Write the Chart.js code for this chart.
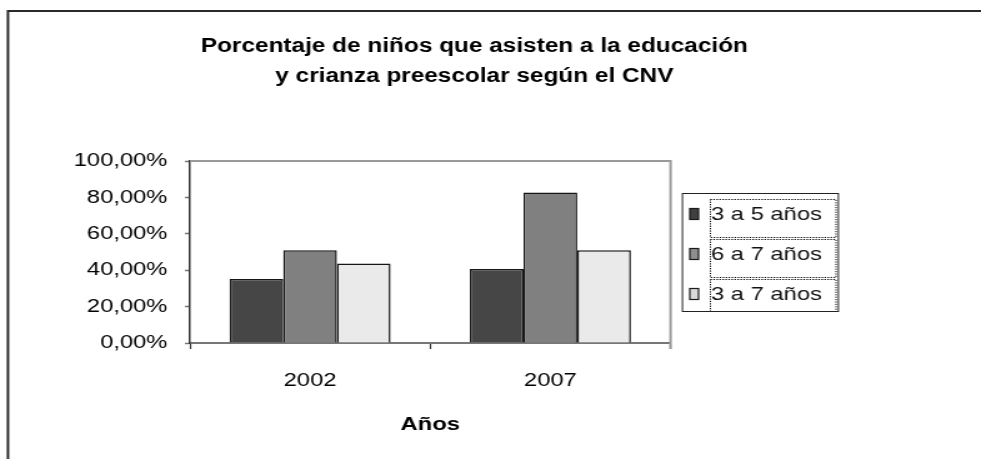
<!DOCTYPE html>
<html lang="es">
<head>
<meta charset="utf-8">
<title>Porcentaje de niños que asisten a la educación y crianza preescolar</title>
<script src="https://cdn.jsdelivr.net/npm/chart.js@4/dist/chart.umd.min.js"></script>
<style>
    html, body { margin: 0; padding: 0; background: #fff; }
    #grafica { display: block; background: #fff; }
</style>
</head>
<body>
<!-- el gráfico original está estirado en horizontal: se dibuja a 785 px y se muestra a 981 px -->
<canvas id="grafica" width="785" height="459" style="width:981px;height:459px"></canvas>
<script>
// Datos del gráfico
const anios = ['2002', '2007'];
const grupos = ['3 a 5 años', '6 a 7 años', '3 a 7 años'];
const valores3a5 = [35.2, 40.6];
const valores6a7 = [51.0, 82.7];
const valores3a7 = [43.7, 51.0];
const tituloLineas = ['Porcentaje de niños que asisten a la educación', 'y crianza preescolar según el CNV'];
const tituloEjeX = 'Años';

const coloresBarra = ['#464646', '#808080', '#eaeaea'];
const coloresLeyenda = ['#404040', '#8e8e8e', '#d9d9d9'];
const FUENTE = 'Arial, "Liberation Sans", sans-serif';

function formatoPorcentaje(v) {
    return v.toFixed(2).replace('.', ',') + '%';
}

// Marco, título, bordes del área y leyenda
const decoracion = {
    id: 'decoracion',
    afterDraw(chart) {
        const ctx = chart.ctx;
        const area = chart.chartArea;
        ctx.save();

        // marco exterior (solo arriba e izquierda visibles)
        ctx.strokeStyle = '#2a2a2a';
        ctx.lineWidth = 2;
        ctx.beginPath();
        ctx.moveTo(6.4, chart.height);
        ctx.lineTo(6.4, 11);
        ctx.lineTo(chart.width, 11);
        ctx.stroke();

        // título
        ctx.fillStyle = '#000';
        ctx.font = 'bold 19.5px ' + FUENTE;
        ctx.textAlign = 'center';
        ctx.textBaseline = 'middle';
        ctx.fillText(tituloLineas[0], 379.6, 47);
        ctx.fillText(tituloLineas[1], 379.6, 77);

        // borde superior y derecho del área de trazado
        ctx.strokeStyle = '#9a9a9a';
        ctx.lineWidth = 2;
        ctx.beginPath();
        ctx.moveTo(area.left, area.top);
        ctx.lineTo(area.right, area.top);
        ctx.lineTo(area.right, area.bottom + 6);
        ctx.stroke();

        // leyenda
        const lx = 545.6, ly = 193, lw = 124.8, lh = 118;
        ctx.strokeStyle = '#222';
        ctx.lineWidth = 1;
        ctx.strokeRect(lx + 0.5, ly + 0.5, lw, lh);

        const filas = [214, 254, 294];
        ctx.font = '19px ' + FUENTE;
        ctx.textAlign = 'left';
        ctx.textBaseline = 'middle';
        chart.data.datasets.forEach((ds, i) => {
            const cy = filas[i];
            ctx.fillStyle = coloresLeyenda[i];
            ctx.fillRect(552, cy - 5.5, 7, 11);
            ctx.strokeStyle = '#1a1a1a';
            ctx.lineWidth = 1.2;
            ctx.strokeRect(552, cy - 5.5, 7, 11);

            ctx.fillStyle = '#111';
            ctx.fillText(ds.label, 569, cy + 1);

            // recuadro punteado alrededor del texto
            ctx.save();
            ctx.beginPath();
            ctx.rect(lx, ly, lw + 1, lh);
            ctx.clip();
            ctx.setLineDash([1.2, 1.2]);
            ctx.lineWidth = 1;
            ctx.strokeStyle = '#000';
            ctx.strokeRect(568.5, cy - 15 + 0.5, 100.5, 38);
            ctx.restore();
        });

        ctx.restore();
    }
};

const ctx = document.getElementById('grafica').getContext('2d');
const grafica = new Chart(ctx, {
    type: 'bar',
    data: {
        labels: anios,
        datasets: [
            { label: grupos[0], data: valores3a5 },
            { label: grupos[1], data: valores6a7 },
            { label: grupos[2], data: valores3a7 }
        ].map((ds, i) => ({
            ...ds,
            backgroundColor: coloresBarra[i],
            borderColor: '#151515',
            borderWidth: 1.5,
            categoryPercentage: 0.67,
            barPercentage: 1.0
        }))
    },
    options: {
        responsive: false,
        devicePixelRatio: 1,
        animation: false,
        layout: { padding: { top: 161, right: 248.4, bottom: 0, left: 0 } },
        plugins: {
            legend: { display: false },
            title: { display: false },
            tooltip: { enabled: false }
        },
        scales: {
            x: {
                afterFit(scale) { scale.height = 116; },
                grid: {
                    offset: true,
                    drawOnChartArea: false,
                    tickLength: 6,
                    tickColor: '#333',
                    tickWidth: 1.2
                },
                border: { color: '#777', width: 2 },
                ticks: {
                    padding: 20,
                    color: '#000',
                    font: { family: FUENTE, size: 19 }
                },
                title: {
                    display: true,
                    text: tituloEjeX,
                    color: '#000',
                    font: { family: FUENTE, size: 19, weight: 'bold' },
                    padding: { top: 0, bottom: 23 }
                }
            },
            y: {
                min: 0,
                max: 100,
                afterFit(scale) { scale.width = 152; },
                grid: {
                    drawOnChartArea: false,
                    tickLength: 4,
                    tickColor: '#777',
                    tickWidth: 1.5
                },
                border: { color: '#333', width: 1.5 },
                ticks: {
                    stepSize: 20,
                    padding: 14,
                    color: '#000',
                    font: { family: FUENTE, size: 19 },
                    callback: (v) => formatoPorcentaje(v)
                }
            }
        }
    },
    plugins: [decoracion]
});
</script>
</body>
</html>
